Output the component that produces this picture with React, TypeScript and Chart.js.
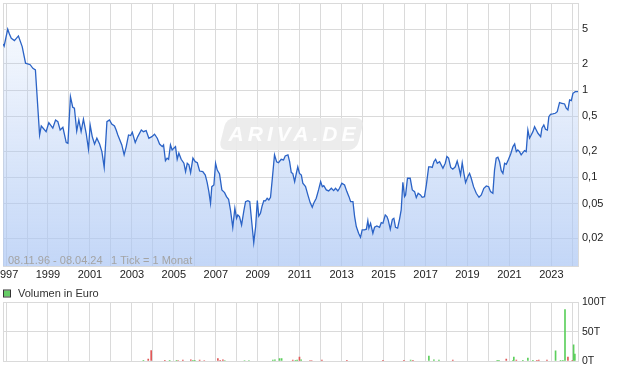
import React, { useEffect, useRef } from 'react';
import { Chart, registerables } from 'chart.js';

Chart.register(...registerables);

const FONT = '"Liberation Sans", Arial, sans-serif';

const startYear = 1996.855;
const endYear = 2024.27;
const rangeText = '08.11.96 - 08.04.24';
const tickText = '1 Tick = 1 Monat';
const legendText = 'Volumen in Euro';
const watermarkText = 'ARIVA.DE';

const yearTicks = [1997, 1998, 1999, 2000, 2001, 2002, 2003, 2004, 2005, 2006, 2007, 2008, 2009, 2010, 2011, 2012, 2013, 2014, 2015, 2016, 2017, 2018, 2019, 2020, 2021, 2022, 2023, 2024];
const priceTicks = [10, 5, 2, 1, 0.5, 0.2, 0.1, 0.05, 0.02];
const volTicks = [0, 50, 100];

const priceYears = [
  1996.86, 1996.91, 1997.08, 1997.16, 1997.25, 1997.40, 1997.59, 1997.77, 1997.93, 1998.15,
  1998.28, 1998.40, 1998.60, 1998.68, 1998.91, 1999.04, 1999.23, 1999.36, 1999.47, 1999.58,
  1999.71, 1999.87, 1999.95, 2000.07, 2000.18, 2000.26, 2000.37, 2000.47, 2000.58, 2000.69,
  2000.82, 2000.93, 2001.01, 2001.11, 2001.22, 2001.33, 2001.46, 2001.57, 2001.68, 2001.81,
  2001.93, 2002.04, 2002.17, 2002.25, 2002.33, 2002.52, 2002.63, 2002.73, 2002.84, 2002.94,
  2003.02, 2003.16, 2003.28, 2003.45, 2003.55, 2003.68, 2003.81, 2003.95, 2004.08, 2004.21,
  2004.32, 2004.45, 2004.51, 2004.60, 2004.68, 2004.75, 2004.84, 2004.92, 2005.00, 2005.08,
  2005.16, 2005.24, 2005.35, 2005.48, 2005.56, 2005.64, 2005.72, 2005.80, 2005.91, 2006.02,
  2006.12, 2006.23, 2006.38, 2006.50, 2006.59, 2006.67, 2006.75, 2006.81, 2006.91, 2006.99,
  2007.07, 2007.18, 2007.29, 2007.42, 2007.51, 2007.61, 2007.70, 2007.81, 2007.91, 2007.99,
  2008.05, 2008.13, 2008.23, 2008.34, 2008.42, 2008.53, 2008.62, 2008.72, 2008.81, 2008.90,
  2008.98, 2009.05, 2009.13, 2009.21, 2009.29, 2009.37, 2009.45, 2009.53, 2009.61, 2009.69,
  2009.80, 2009.90, 2009.99, 2010.12, 2010.23, 2010.31, 2010.44, 2010.52, 2010.60, 2010.67,
  2010.76, 2010.84, 2010.91, 2010.99, 2011.08, 2011.15, 2011.28, 2011.39, 2011.50, 2011.60,
  2011.68, 2011.79, 2011.90, 2012.00, 2012.08, 2012.15, 2012.27, 2012.38, 2012.51, 2012.62,
  2012.71, 2012.82, 2012.90, 2013.01, 2013.14, 2013.25, 2013.35, 2013.43, 2013.54, 2013.62,
  2013.70, 2013.81, 2013.90, 2013.98, 2014.09, 2014.18, 2014.25, 2014.30, 2014.38, 2014.49,
  2014.57, 2014.68, 2014.81, 2014.89, 2014.97, 2015.08, 2015.16, 2015.22, 2015.32, 2015.42,
  2015.49, 2015.57, 2015.67, 2015.76, 2015.84, 2015.92, 2016.00, 2016.05, 2016.14, 2016.27,
  2016.37, 2016.48, 2016.56, 2016.65, 2016.76, 2016.84, 2016.95, 2017.04, 2017.15, 2017.24,
  2017.32, 2017.40, 2017.48, 2017.56, 2017.67, 2017.83, 2017.94, 2018.02, 2018.10, 2018.20,
  2018.30, 2018.42, 2018.51, 2018.59, 2018.67, 2018.75, 2018.83, 2018.91, 2019.02, 2019.10,
  2019.18, 2019.29, 2019.42, 2019.55, 2019.66, 2019.78, 2019.90, 2020.01, 2020.10, 2020.21,
  2020.29, 2020.37, 2020.45, 2020.53, 2020.61, 2020.69, 2020.77, 2020.85, 2020.96, 2021.06,
  2021.17, 2021.25, 2021.33, 2021.40, 2021.48, 2021.56, 2021.64, 2021.72, 2021.80, 2021.88,
  2021.96, 2022.04, 2022.12, 2022.20, 2022.28, 2022.36, 2022.49, 2022.55, 2022.64, 2022.72,
  2022.81, 2022.88, 2022.96, 2023.07, 2023.19, 2023.28, 2023.39, 2023.50, 2023.63, 2023.71,
  2023.79, 2023.87, 2023.95, 2024.03, 2024.14, 2024.27,
];

const prices = [
  3.39, 3.21, 5.00, 4.41, 3.94, 3.70, 4.19, 3.16, 2.04, 1.96,
  1.78, 1.71, 0.306, 0.388, 0.334, 0.424, 0.366, 0.455, 0.435, 0.349,
  0.375, 0.250, 0.246, 0.842, 0.637, 0.620, 0.340, 0.455, 0.334, 0.464,
  0.320, 0.210, 0.399, 0.293, 0.241, 0.281, 0.241, 0.197, 0.130, 0.435,
  0.455, 0.409, 0.388, 0.349, 0.306, 0.235, 0.181, 0.225, 0.306, 0.301,
  0.329, 0.250, 0.293, 0.349, 0.334, 0.343, 0.281, 0.293, 0.312, 0.281,
  0.241, 0.225, 0.235, 0.155, 0.166, 0.161, 0.235, 0.206, 0.216, 0.225,
  0.161, 0.189, 0.161, 0.145, 0.116, 0.145, 0.139, 0.113, 0.166, 0.151,
  0.147, 0.118, 0.116, 0.106, 0.0869, 0.0685, 0.0504, 0.0781, 0.0817, 0.145,
  0.121, 0.109, 0.0716, 0.0667, 0.0600, 0.0560, 0.0422, 0.0267, 0.0442, 0.0339,
  0.0370, 0.0354, 0.0284, 0.0414, 0.0526, 0.0540, 0.0526, 0.0297, 0.0178, 0.0272,
  0.0540, 0.0360, 0.0387, 0.0469, 0.0540, 0.0536, 0.0575, 0.0550, 0.0590, 0.0933,
  0.181, 0.151, 0.147, 0.161, 0.158, 0.176, 0.181, 0.151, 0.113, 0.111,
  0.0892, 0.111, 0.132, 0.111, 0.106, 0.0855, 0.0781, 0.0628, 0.0512, 0.0453,
  0.0512, 0.0575, 0.0716, 0.0892, 0.0781, 0.0802, 0.0716, 0.0697, 0.0748, 0.0703,
  0.0748, 0.0697, 0.0748, 0.0855, 0.0817, 0.0685, 0.0600, 0.0526, 0.0526, 0.0354,
  0.0272, 0.0228, 0.0205, 0.0249, 0.0249, 0.0254, 0.0318, 0.0261, 0.0297, 0.0228,
  0.0267, 0.0277, 0.0267, 0.0302, 0.0297, 0.0370, 0.0354, 0.0324, 0.0254, 0.0330,
  0.0339, 0.0267, 0.0261, 0.0330, 0.0422, 0.0878, 0.0600, 0.0628, 0.0975, 0.0975,
  0.0716, 0.0685, 0.0584, 0.0656, 0.0628, 0.0590, 0.0600, 0.0817, 0.132, 0.132,
  0.130, 0.151, 0.161, 0.145, 0.151, 0.127, 0.145, 0.173, 0.166, 0.130,
  0.124, 0.132, 0.154, 0.130, 0.106, 0.147, 0.111, 0.0869, 0.102, 0.111,
  0.0975, 0.0781, 0.0656, 0.0590, 0.0628, 0.0748, 0.0796, 0.0781, 0.0685, 0.0656,
  0.121, 0.166, 0.170, 0.151, 0.119, 0.111, 0.145, 0.141, 0.161, 0.185,
  0.225, 0.241, 0.197, 0.206, 0.197, 0.181, 0.192, 0.202, 0.197, 0.349,
  0.281, 0.306, 0.334, 0.381, 0.349, 0.320, 0.293, 0.366, 0.399, 0.356,
  0.349, 0.497, 0.529, 0.533, 0.543, 0.567, 0.719, 0.707, 0.694, 0.620,
  0.593, 0.772, 0.758, 0.921, 0.961, 0.961,
];

// Volume in thousand euro (T), green = up, red = down
const volYears = [
  2003.55, 2003.78, 2003.92, 2004.57, 2004.80, 2005.13, 2005.21, 2005.43, 2005.81, 2005.91,
  2006.00, 2006.23, 2006.45, 2007.10, 2007.21, 2007.34, 2007.43, 2008.37, 2008.58, 2009.72,
  2009.82, 2010.04, 2010.14, 2010.67, 2010.80, 2010.88, 2010.99, 2011.07, 2011.49, 2011.57,
  2012.06, 2013.25, 2014.97, 2015.97, 2016.29, 2016.40, 2017.16, 2017.40, 2017.64, 2018.30,
  2020.42, 2020.50, 2020.85, 2021.17, 2021.21, 2021.33, 2021.64, 2021.88, 2022.12, 2022.31,
  2022.40, 2022.79, 2023.20, 2023.44, 2023.55, 2023.65, 2023.79, 2024.00, 2024.06, 2024.12,
];
const volAmounts = [
  0.5, 3.4, 17.7, 1.0, 0.7, 0.7, 0.8, 1.5, 2.2, 0.7,
  0.7, 1.5, 0.8, 4.0, 1.0, 1.8, 0.8, 0.8, 0.8, 1.5,
  2.2, 4.0, 4.0, 1.5, 1.0, 1.5, 6.5, 2.0, 0.8, 0.8,
  1.6, 0.6, 0.6, 0.6, 1.6, 0.6, 8.6, 2.2, 1.6, 1.6,
  0.6, 0.6, 3.4, 0.6, 6.8, 1.6, 0.6, 5.0, 0.6, 0.6,
  1.6, 1.6, 17.2, 0.6, 0.6, 88.0, 6.8, 0.6, 27.5, 12.0,
];
const volUp = [
  1, 0, 0, 0, 1, 1, 0, 0, 0, 1,
  1, 0, 0, 0, 0, 0, 1, 1, 1, 1,
  1, 1, 1, 0, 1, 1, 0, 1, 0, 0,
  0, 0, 0, 0, 1, 0, 1, 1, 1, 0,
  1, 1, 0, 1, 1, 0, 1, 1, 1, 0,
  0, 0, 1, 1, 1, 1, 0, 0, 1, 1,
];

const GRID = '#dadada';
const LINE = '#2b63c6';

function frameLeft(chart: any) {
  const { ctx, chartArea: a } = chart;
  ctx.save();
  ctx.strokeStyle = GRID;
  ctx.lineWidth = 1;
  ctx.beginPath();
  ctx.moveTo(Math.round(a.left) + 0.5, a.top);
  ctx.lineTo(Math.round(a.left) + 0.5, a.bottom);
  ctx.stroke();
  ctx.restore();
}

const mainDecor = {
  id: 'mainDecor',
  beforeDatasetsDraw(chart: any) {
    frameLeft(chart);
    const { ctx } = chart;
    ctx.save();
    ctx.fillStyle = 'rgba(234,234,234,0.9)';
    ctx.translate(291.5, 134);
    ctx.transform(1, 0, -0.25, 1, 0, 0);
    ctx.beginPath();
    (ctx as any).roundRect(-69, -16, 138, 32, 8);
    ctx.fill();
    ctx.restore();
    ctx.save();
    ctx.font = `italic bold 21px ${FONT}`;
    (ctx as any).letterSpacing = '4px';
    ctx.fillStyle = 'rgba(255,255,255,0.95)';
    ctx.textAlign = 'center';
    ctx.textBaseline = 'middle';
    ctx.fillText(watermarkText, 294, 135);
    ctx.restore();
  },
  afterDatasetsDraw(chart: any) {
    const { ctx } = chart;
    ctx.save();
    ctx.font = `11px ${FONT}`;
    ctx.fillStyle = '#a4a4a4';
    ctx.textAlign = 'left';
    ctx.textBaseline = 'alphabetic';
    ctx.fillText(rangeText, 8, 264);
    ctx.fillText(tickText, 111, 264);
    ctx.restore();
  },
};

const volDecor = {
  id: 'volDecor',
  beforeDatasetsDraw(chart: any) {
    frameLeft(chart);
  },
  afterDraw(chart: any) {
    const { ctx } = chart;
    ctx.save();
    ctx.fillStyle = '#66cc66';
    ctx.fillRect(4, 10.5, 6, 6);
    ctx.strokeStyle = '#333';
    ctx.lineWidth = 1;
    ctx.strokeRect(3.5, 10, 7, 7);
    ctx.font = `11px ${FONT}`;
    ctx.fillStyle = '#333';
    ctx.textAlign = 'left';
    ctx.textBaseline = 'middle';
    ctx.fillText(legendText, 18, 13.5);
    ctx.restore();
  },
};

export default function App() {
  const mainRef = useRef<HTMLCanvasElement>(null);
  const volRef = useRef<HTMLCanvasElement>(null);

  useEffect(() => {
    Chart.defaults.font.family = FONT;
    const main = new Chart(mainRef.current as HTMLCanvasElement, {
      type: 'line',
      data: {
        datasets: [
          {
            data: priceYears.map((x, i) => ({ x, y: prices[i] })),
            borderColor: LINE,
            borderWidth: 1.3,
            pointRadius: 0,
            tension: 0,
            fill: 'start',
            backgroundColor: (c: any) => {
              const a = c.chart.chartArea;
              if (!a) return 'rgba(172,199,244,0.4)';
              const g = c.chart.ctx.createLinearGradient(0, a.top, 0, a.bottom);
              g.addColorStop(0, 'rgba(172,199,244,0.05)');
              g.addColorStop(1, 'rgba(172,199,244,0.72)');
              return g;
            },
          },
        ],
      },
      options: {
        animation: false,
        responsive: false,
        events: [],
        layout: { padding: { left: 3, top: 3, right: 0, bottom: 0 } },
        plugins: { legend: { display: false }, tooltip: { enabled: false } },
        scales: {
          x: {
            type: 'linear',
            min: startYear,
            max: endYear,
            afterBuildTicks: (s: any) => {
              s.ticks = yearTicks.map((v) => ({ value: v }));
            },
            afterFit: (s: any) => {
              s.height = 14;
              s.paddingLeft = 0;
              s.paddingRight = 0;
            },
            ticks: {
              autoSkip: false,
              maxRotation: 0,
              minRotation: 0,
              padding: 2,
              color: '#222',
              font: { size: 11, family: FONT },
              callback: (v: any) => (Number(v) % 2 === 1 ? String(v) : ''),
            },
            grid: { color: GRID, drawTicks: false, lineWidth: 1 },
            border: { display: true, color: GRID },
          },
          y: {
            type: 'logarithmic',
            position: 'right',
            min: 0.0096,
            max: 10,
            afterBuildTicks: (s: any) => {
              s.ticks = priceTicks.map((v) => ({ value: v }));
            },
            afterFit: (s: any) => {
              s.width = 42;
              s.paddingTop = 0;
              s.paddingBottom = 0;
            },
            ticks: {
              padding: 4,
              color: '#222',
              font: { size: 11, family: FONT },
              callback: (v: any) => (Number(v) === 10 ? '' : String(v).replace('.', ',')),
            },
            grid: { color: GRID, drawTicks: false },
            border: { display: true, color: GRID },
          },
        },
      } as any,
      plugins: [mainDecor],
    });

    const vol = new Chart(volRef.current as HTMLCanvasElement, {
      type: 'bar',
      data: {
        datasets: [
          {
            data: volYears.map((x, i) => ({ x, y: volAmounts[i] })) as any,
            backgroundColor: volUp.map((u) => (u ? '#5ccf5c' : '#e05858')),
            barThickness: 1,
            borderWidth: 0,
          },
        ],
      },
      options: {
        animation: false,
        responsive: false,
        events: [],
        layout: { padding: { left: 3, top: 22.5, right: 0, bottom: 0 } },
        plugins: { legend: { display: false }, tooltip: { enabled: false } },
        scales: {
          x: {
            type: 'linear',
            min: startYear,
            max: endYear,
            offset: false,
            afterBuildTicks: (s: any) => {
              s.ticks = yearTicks.map((v) => ({ value: v }));
            },
            afterFit: (s: any) => {
              s.height = 10;
              s.paddingLeft = 0;
              s.paddingRight = 0;
            },
            ticks: { display: false, autoSkip: false },
            grid: { color: GRID, drawTicks: false, offset: false },
            border: { display: true, color: GRID },
          },
          y: {
            type: 'linear',
            position: 'right',
            min: 0,
            max: 100,
            afterBuildTicks: (s: any) => {
              s.ticks = volTicks.map((v) => ({ value: v }));
            },
            afterFit: (s: any) => {
              s.width = 42;
              s.paddingTop = 0;
              s.paddingBottom = 0;
            },
            ticks: {
              padding: 4,
              color: '#222',
              font: { size: 10.5, family: FONT },
              callback: (v: any) => `${v}T`,
            },
            grid: { color: GRID, drawTicks: false },
            border: { display: true, color: GRID },
          },
        },
      } as any,
      plugins: [volDecor],
    });

    return () => {
      main.destroy();
      vol.destroy();
    };
  }, []);

  return (
    <div style={{ position: 'absolute', left: 0, top: 0, width: 620, height: 371, background: '#fff' }}>
      <canvas ref={mainRef} width={620} height={280} style={{ position: 'absolute', left: 0, top: 0 }} />
      <canvas ref={volRef} width={620} height={91} style={{ position: 'absolute', left: 0, top: 280 }} />
    </div>
  );
}
